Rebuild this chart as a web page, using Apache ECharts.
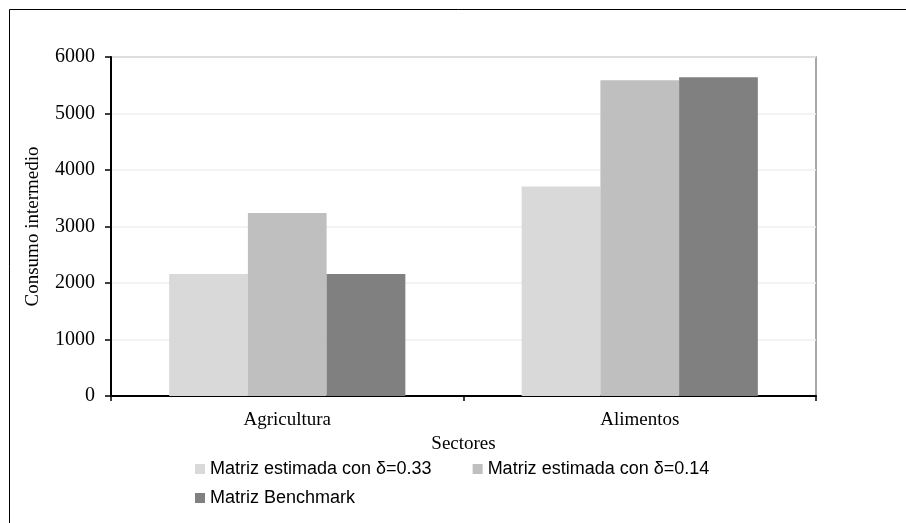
<!DOCTYPE html>
<html>
<head>
<meta charset="utf-8">
<script src="https://cdn.jsdelivr.net/npm/echarts@6/dist/echarts.min.js"></script>
<style>
  html, body { margin: 0; padding: 0; background: #ffffff; }
  #chart { width: 906px; height: 523px; }
</style>
</head>
<body>
<div id="chart"></div>
<script>
// Sectors and intermediate consumption per estimation method
const sectores = ['Agricultura', 'Alimentos'];
const seriesNames = ['Matriz estimada con δ=0.33', 'Matriz estimada con δ=0.14', 'Matriz Benchmark'];
const matrizD033 = [2160, 3710];
const matrizD014 = [3240, 5590];
const matrizBenchmark = [2160, 5640];
const yTicks = { min: 0, max: 6000, interval: 1000 };

const serifFont = '"Liberation Serif", "Times New Roman", serif';
const sansFont = '"Liberation Sans", Arial, sans-serif';
const barColors = ['#d9d9d9', '#bfbfbf', '#808080'];
const values = [matrizD033, matrizD014, matrizBenchmark];

const chart = echarts.init(document.getElementById('chart'), null, { renderer: 'canvas' });

const legendText = { fontFamily: sansFont, fontSize: 18, color: '#000' };

chart.setOption({
  animation: false,
  backgroundColor: '#ffffff',
  graphic: [{
    type: 'rect',
    shape: { x: 9.5, y: 9.5, width: 1000, height: 1000 },
    style: { fill: 'none', stroke: '#000', lineWidth: 1 },
    silent: true
  }],
  grid: {
    left: 111, right: 90, top: 57, bottom: 127,
    show: true, borderColor: '#8c8c8c', borderWidth: 1.5, backgroundColor: 'transparent'
  },
  legend: [{
    data: [seriesNames[0], seriesNames[1]],
    left: 195, top: 460, padding: 0,
    orient: 'horizontal',
    itemWidth: 10, itemHeight: 10, itemGap: 41,
    icon: 'rect',
    textStyle: legendText
  }, {
    data: [seriesNames[2]],
    left: 195, top: 489, padding: 0,
    orient: 'horizontal',
    itemWidth: 10, itemHeight: 10,
    icon: 'rect',
    textStyle: legendText
  }],
  xAxis: {
    type: 'category',
    data: sectores,
    name: 'Sectores',
    nameLocation: 'middle',
    nameGap: 36,
    nameTextStyle: { fontFamily: serifFont, fontSize: 19, color: '#000' },
    axisLine: { lineStyle: { color: '#000', width: 2 } },
    axisTick: { show: true, length: 5, lineStyle: { color: '#000', width: 1.5 } },
    axisLabel: { fontFamily: serifFont, fontSize: 19, color: '#000', margin: 15 },
    splitLine: { show: false }
  },
  yAxis: {
    type: 'value',
    min: yTicks.min, max: yTicks.max, interval: yTicks.interval,
    name: 'Consumo intermedio',
    nameLocation: 'middle',
    nameGap: 68,
    nameRotate: 90,
    nameTextStyle: { fontFamily: serifFont, fontSize: 19, color: '#000' },
    axisLine: { show: true, lineStyle: { color: '#000', width: 2 } },
    axisTick: { show: true, length: 6, lineStyle: { color: '#000', width: 1.5 } },
    axisLabel: {
      fontFamily: serifFont, fontSize: 20, color: '#000', margin: 16,
      formatter: (v) => String(v)
    },
    splitLine: { show: true, lineStyle: { color: '#efefef', width: 1.5 } }
  },
  series: seriesNames.map((name, i) => ({
    name: name,
    type: 'bar',
    data: values[i],
    barGap: '0%',
    barCategoryGap: '33%',
    itemStyle: { color: barColors[i] }
  }))
});
</script>
</body>
</html>
